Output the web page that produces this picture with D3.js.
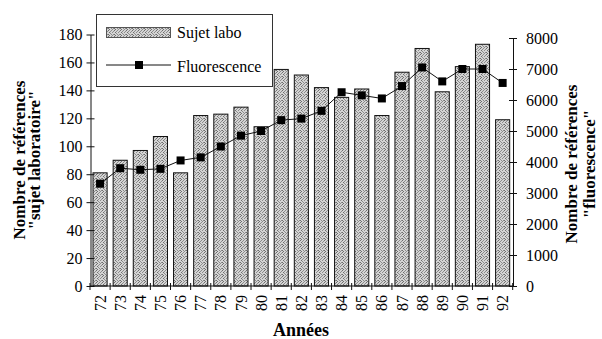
<!DOCTYPE html>
<html>
<head>
<meta charset="utf-8">
<script src="https://cdn.jsdelivr.net/npm/d3@7/dist/d3.min.js"></script>
<style>
  body { margin: 0; background: #fff; }
  text { font-family: "Liberation Serif", "Times New Roman", serif; fill: #000; }
</style>
</head>
<body>
<svg id="chart" width="602" height="339"></svg>
<script>
// data
var years = ["72","73","74","75","76","77","78","79","80","81","82","83","84","85","86","87","88","89","90","91","92"];
var sujetLabo = [81, 90, 97, 107, 81, 122, 123, 128, 114, 155, 151, 142, 135, 141, 122, 153, 170, 139, 157, 173, 119];
var fluorescence = [3300, 3800, 3750, 3780, 4050, 4150, 4500, 4850, 5000, 5350, 5400, 5650, 6250, 6150, 6050, 6450, 7050, 6600, 7000, 7000, 6550];
var leftTicks = [0, 20, 40, 60, 80, 100, 120, 140, 160, 180];
var rightTicks = [0, 1000, 2000, 3000, 4000, 5000, 6000, 7000, 8000];

var svg = d3.select("#chart");

// stippled grey fill for the bars (fixed dot layout, 6x6 tile)
var defs = svg.append("defs");
var pat = defs.append("pattern")
    .attr("id", "stipple")
    .attr("patternUnits", "userSpaceOnUse")
    .attr("width", 6).attr("height", 6);
pat.append("rect").attr("width", 6).attr("height", 6).attr("fill", "#d4d4d4");
var dots = [[0,0],[3,0],[5,1],[1,2],[4,2],[2,3],[0,4],[3,4],[5,4],[1,5],[4,5],[2,1]];
dots.forEach(function(p, i) {
  pat.append("rect").attr("x", p[0]).attr("y", p[1]).attr("width", 1).attr("height", 1)
      .attr("fill", i % 3 == 0 ? "#6e6e6e" : "#8c8c8c");
});

//scales
var x = d3.scaleBand().domain(years).range([90, 512.7]).paddingInner(0.3).paddingOuter(0.15);
var yL = d3.scaleLinear().domain([0, 180]).range([286, 34.5]);
var yR = d3.scaleLinear().domain([0, 8000]).range([286, 38]);

// bars
svg.append("g").selectAll("rect")
    .data(sujetLabo)
    .enter().append("rect")
    .attr("x", function(d, i) { return x(years[i]); })
    .attr("y", function(d) { return yL(d); })
    .attr("width", x.bandwidth())
    .attr("height", function(d) { return yL(0) - yL(d); })
    .attr("fill", "url(#stipple)")
    .attr("stroke", "#111")
    .attr("stroke-width", 1);

// left axis
var axL = svg.append("g").attr("transform", "translate(90.5,0)");
axL.call(d3.axisLeft(yL).tickValues(leftTicks).tickSize(0).tickPadding(8));
axL.select(".domain").attr("stroke", "#111");
axL.selectAll(".tick line").attr("x1", -4).attr("x2", 4).attr("stroke", "#111");
axL.selectAll(".tick text").style("font-size", "16px").attr("fill", "#000");

// right axis
var axR = svg.append("g").attr("transform", "translate(513,0)");
axR.call(d3.axisRight(yR).tickValues(rightTicks).tickSize(0).tickPadding(13).tickFormat(d3.format("d")));
axR.select(".domain").attr("stroke", "#111");
axR.selectAll(".tick line").attr("x1", -4).attr("x2", 4).attr("stroke", "#111");
axR.selectAll(".tick text").style("font-size", "16px").attr("fill", "#000");

// x axis
var axX = svg.append("g").attr("transform", "translate(0,286)");
axX.append("line").attr("x1", 90).attr("x2", 513).attr("stroke", "#111");
var bounds = d3.range(years.length + 1).map(function(i) { return 90 + i * x.step(); });
axX.selectAll(".tk").data(bounds).enter().append("line")
    .attr("x1", function(d) { return d; }).attr("x2", function(d) { return d; })
    .attr("y1", -3).attr("y2", 4).attr("stroke", "#111");
axX.selectAll(".lbl").data(years).enter().append("text")
    .attr("transform", function(d) { return "translate(" + (x(d) + x.bandwidth() / 2) + ",9) rotate(-90)"; })
    .attr("dy", "0.35em")
    .attr("text-anchor", "end")
    .style("font-size", "16px")
    .text(function(d) { return d; });

// fluorescence line + markers
var line = d3.line()
    .x(function(d, i) { return x(years[i]) + x.bandwidth() / 2; })
    .y(function(d) { return yR(d); });
svg.append("path").datum(fluorescence)
    .attr("d", line).attr("fill", "none").attr("stroke", "#111").attr("stroke-width", 1);
svg.append("g").selectAll("rect")
    .data(fluorescence)
    .enter().append("rect")
    .attr("x", function(d, i) { return x(years[i]) + x.bandwidth() / 2 - 4; })
    .attr("y", function(d) { return yR(d) - 4; })
    .attr("width", 8).attr("height", 8)
    .attr("fill", "#000");

// titles
svg.append("text").attr("x", 301).attr("y", 336).attr("text-anchor", "middle")
    .style("font-size", "18px").style("font-weight", "bold").text("Années");

var tl = svg.append("text").attr("transform", "translate(25,160) rotate(-90)")
    .attr("text-anchor", "middle").style("font-size", "17px").style("font-weight", "bold");
tl.append("tspan").attr("x", 0).attr("y", 0).text("Nombre de références");
tl.append("tspan").attr("x", 0).attr("y", 15).text("\"sujet laboratoire\"");

var tr = svg.append("text").attr("transform", "translate(577,164) rotate(-90)")
    .attr("text-anchor", "middle").style("font-size", "17px").style("font-weight", "bold");
tr.append("tspan").attr("x", 0).attr("y", 0).text("Nombre de références");
tr.append("tspan").attr("x", 0).attr("y", 18).text("\"fluorescence\"");

// legend
var lg = svg.append("g");
lg.append("rect").attr("x", 96.5).attr("y", 14.5).attr("width", 176).attr("height", 72)
    .attr("fill", "#fff").attr("stroke", "#333");
lg.append("rect").attr("x", 106.5).attr("y", 27.5).attr("width", 64).attr("height", 10)
    .attr("fill", "url(#stipple)").attr("stroke", "#555");
lg.append("text").attr("x", 177).attr("y", 38).style("font-size", "16px").text("Sujet labo");
lg.append("line").attr("x1", 106).attr("x2", 171).attr("y1", 65).attr("y2", 65).attr("stroke", "#111");
lg.append("rect").attr("x", 135).attr("y", 61).attr("width", 8).attr("height", 8).attr("fill", "#000");
lg.append("text").attr("x", 177).attr("y", 72).style("font-size", "16px").text("Fluorescence");
</script>
</body>
</html>
